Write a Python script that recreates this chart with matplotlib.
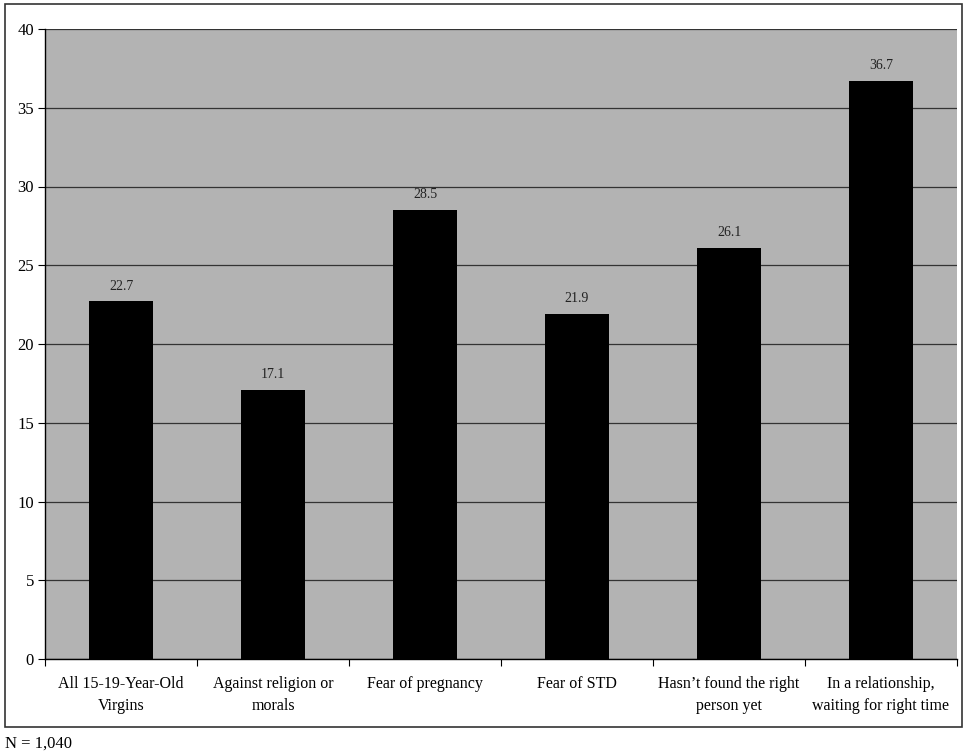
import matplotlib
matplotlib.use("Agg")
import matplotlib.pyplot as plt
from matplotlib.patches import Rectangle

categories = ["All 15-19-Year-Old\nVirgins", "Against religion or\nmorals", "Fear of pregnancy",
              "Fear of STD", "Hasn\u2019t found the right\nperson yet", "In a relationship,\nwaiting for right time"]
values = [22.7, 17.1, 28.5, 21.9, 26.1, 36.7]
yticks = [0, 5, 10, 15, 20, 25, 30, 35, 40]

plt.rcParams['font.family'] = ['Liberation Serif', 'DejaVu Serif']

fig = plt.figure(figsize=(9.72, 7.56), dpi=100)
W, H = 972, 756
ax = fig.add_axes([45 / W, 1 - 659 / H, (957 - 45) / W, (659 - 29) / H])
ax.set_facecolor('#b3b3b3')

x = list(range(len(categories)))
ax.bar(x, values, width=0.42, color='black', zorder=3)
for xi, v in zip(x, values):
    ax.text(xi, v + 0.55, f"{v}", ha='center', va='bottom', fontsize=10, color='#222222', zorder=4)

ax.set_xlim(-0.5, len(categories) - 0.5)
ax.set_ylim(0, 40)
ax.set_yticks(yticks)
ax.set_yticklabels([str(t) for t in yticks], fontsize=12)
ax.yaxis.grid(True, color='#333333', linewidth=0.9, zorder=1)
ax.set_axisbelow(True)

ax.set_xticks([i + 0.5 for i in range(-1, len(categories))], minor=False)
ax.set_xticklabels([])
ax.set_xticks(x, minor=True)
ax.set_xticklabels(categories, minor=True, fontsize=11.5, linespacing=1.55)
ax.tick_params(axis='x', which='minor', length=0, pad=12)
ax.tick_params(axis='x', which='major', length=5, direction='out', color='black')
ax.tick_params(axis='y', length=5, direction='out', color='black', pad=3)

for s in ['top', 'right']:
    ax.spines[s].set_visible(False)
for s in ['left', 'bottom']:
    ax.spines[s].set_color('black')
    ax.spines[s].set_linewidth(1)

fig.patches.append(Rectangle((5 / W, 1 - 727 / H), (962 - 5) / W, (727 - 4) / H,
                             transform=fig.transFigure, fill=False, edgecolor='#333333', linewidth=1.2))
fig.text(5 / W, 1 - 744 / H, "N = 1,040", ha='left', va='center', fontsize=12)

fig.savefig("out.png", dpi=100)
